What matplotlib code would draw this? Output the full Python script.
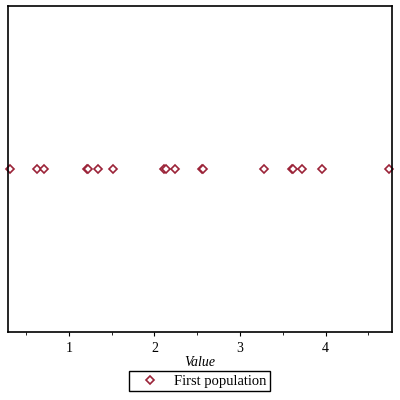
import numpy as np
import matplotlib.pyplot as plt

plt.rcParams['font.family'] = ['Liberation Serif', 'DejaVu Serif']

# values
values = [0.31, 0.63, 0.71, 1.21, 1.22, 1.34, 1.52, 2.11, 2.14, 2.24,
          2.56, 2.57, 3.28, 3.61, 3.62, 3.72, 3.96, 4.74]
series_name = "First population"
x_ticks = [1, 2, 3, 4]
marker_color = '#9b2338'

fig = plt.figure(figsize=(4, 4), dpi=100)
ax = fig.add_axes([0.02, 0.17, 0.961, 0.815])

ax.plot(values, np.zeros(len(values)), linestyle='none', marker='D',
        markersize=3.6, markerfacecolor='white', markeredgecolor=marker_color,
        markeredgewidth=1.2, label=series_name, clip_on=False)

ax.set_xlim(0.29, 4.78)
ax.set_ylim(-1, 1)
ax.set_yticks([])
ax.set_xticks(x_ticks)
ax.set_xticks(np.arange(0.5, 4.8, 0.5), minor=True)
ax.tick_params(axis='x', which='major', direction='out', length=3, labelsize=10, pad=4)
ax.tick_params(axis='x', which='minor', direction='out', length=2)
for s in ax.spines.values():
    s.set_linewidth(1.2)
ax.set_xlabel("Value", fontstyle='italic', fontsize=10, labelpad=1)

fig.legend(loc='center', bbox_to_anchor=(0.498, 0.0475), fontsize=10.5,
           fancybox=False, edgecolor='black', framealpha=1,
           borderpad=0.25, handletextpad=0.35, handlelength=2.5)
fig.savefig('out.png', dpi=100)
